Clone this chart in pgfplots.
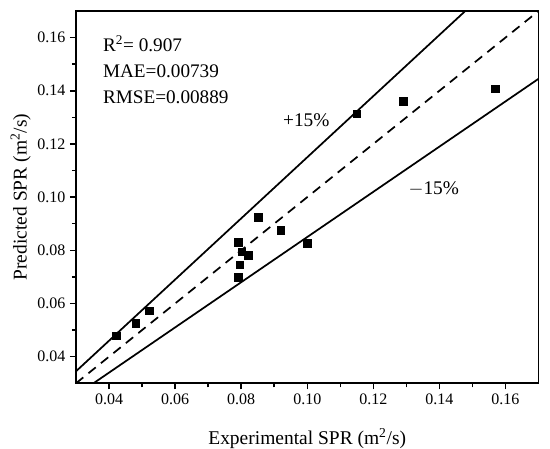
\documentclass[border=0pt]{standalone}
\usepackage{fontspec}
\setmainfont{Liberation Serif}
\usepackage{pgfplots}
\pgfplotsset{compat=1.18}
\begin{document}
\begin{tikzpicture}
\begin{axis}[
  scale only axis,
  width=346.9pt, height=279.2pt,
  xmin=0.03, xmax=0.17, ymin=0.03, ymax=0.17,
  xtick={0.04,0.06,...,0.161}, ytick={0.04,0.06,...,0.161},
  minor tick num=1,
  tick align=outside,
  major tick length=4.5pt, minor tick length=3pt,
  xtick pos=bottom, ytick pos=left,
  axis line style={line width=1.4pt},
  every tick/.style={black, line width=1.1pt},
  /pgf/number format/assume math mode=true,
  /pgf/number format/.cd, fixed, fixed zerofill, precision=2, /pgfplots/.cd,
  ticklabel style={font=\fontsize{12pt}{13pt}\selectfont},
  xlabel={Experimental SPR (m\textsuperscript{2}/s)},
  ylabel={Predicted SPR (m\textsuperscript{2}/s)},
  label style={font=\fontsize{14.6pt}{16pt}\selectfont},
  xlabel style={at={(axis description cs:0.5,-0.1638)}, anchor=base},
  ylabel style={at={(axis description cs:-0.1196,0.5)}, anchor=center, rotate=0},
  clip=true,
]
\addplot[black, line width=1.3pt, dash pattern=on 7pt off 5pt] coordinates {(0.03,0.03) (0.17,0.17)};
\addplot[black, line width=1.3pt] coordinates {(0.03,0.0345) (0.17,0.1955)};
\addplot[black, line width=1.3pt] coordinates {(0.03,0.0255) (0.17,0.1445)};
\addplot[only marks, mark=square*, mark size=2.9pt, black] coordinates {
(0.0421,0.0479) (0.0481,0.0526) (0.0521,0.0573)
(0.0791,0.0830) (0.0802,0.0795) (0.0821,0.0781) (0.0796,0.0746) (0.0791,0.0698)
(0.0852,0.0923) (0.0920,0.0876) (0.1000,0.0827)
(0.1150,0.1314) (0.1291,0.1361) (0.1570,0.1408)
};
\node[anchor=base west, inner sep=0pt, font=\fontsize{14.4pt}{16pt}\selectfont] at (axis cs:0.0381,0.1548) {R\textsuperscript{2}= 0.907};
\node[anchor=base west, inner sep=0pt, font=\fontsize{14.4pt}{16pt}\selectfont] at (axis cs:0.0381,0.1449) {MAE=0.00739};
\node[anchor=base west, inner sep=0pt, font=\fontsize{14.4pt}{16pt}\selectfont] at (axis cs:0.0381,0.1351) {RMSE=0.00889};
\node[anchor=base, inner sep=0pt, font=\fontsize{14.5pt}{16pt}\selectfont] at (axis cs:0.0997,0.1265) {+15\%};
\node[anchor=base, inner sep=0pt, font=\fontsize{14.5pt}{16pt}\selectfont] at (axis cs:0.1383,0.1011) {$-$15\%};
\coordinate (sw) at (rel axis cs:0,0);
\coordinate (ne) at (rel axis cs:1,1);
\end{axis}
\pgfresetboundingbox
\path ([shift={(-57pt,-49.3pt)}]sw) rectangle ([shift={(8.6pt,8.25pt)}]ne);
\end{tikzpicture}
\end{document}
